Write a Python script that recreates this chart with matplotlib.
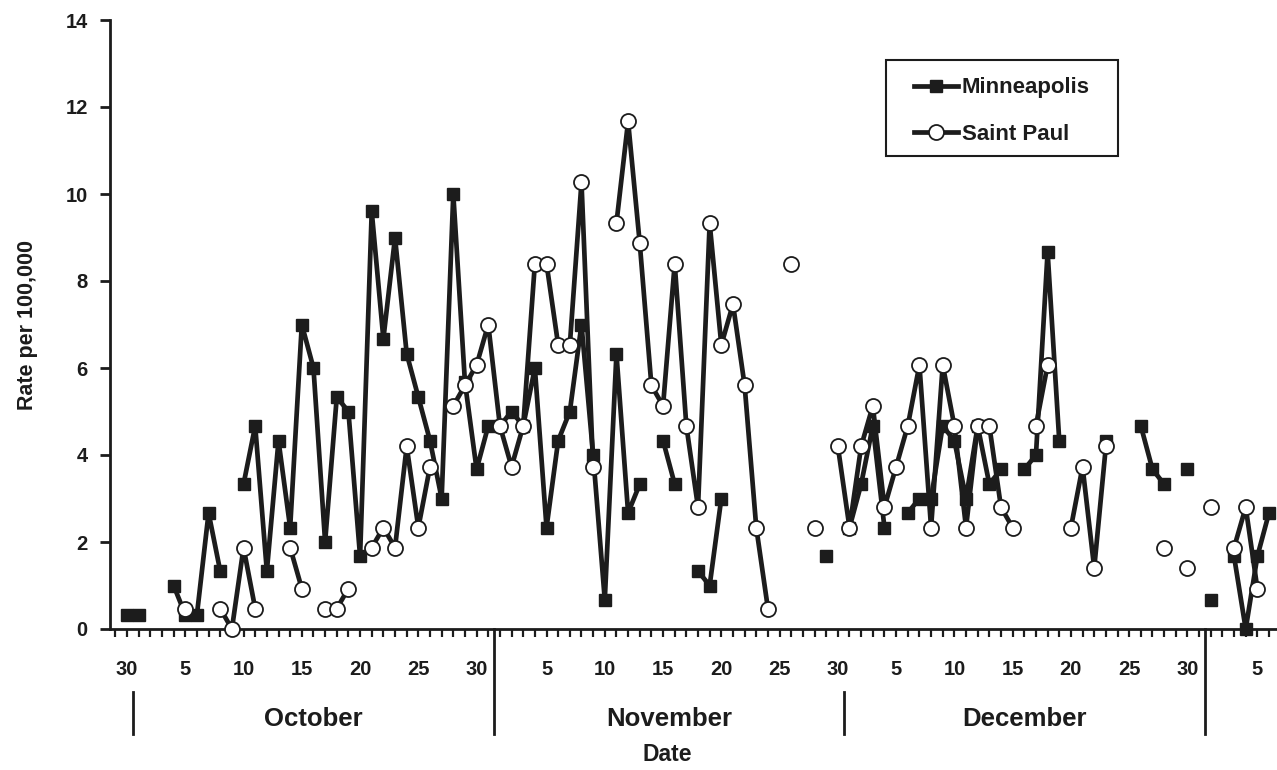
import numpy as np
import matplotlib
matplotlib.use("Agg")
import matplotlib.pyplot as plt
import matplotlib.transforms as mtransforms
from matplotlib.lines import Line2D
from matplotlib.patches import Rectangle

plt.rcParams['font.family'] = ['Liberation Sans', 'DejaVu Sans']
plt.rcParams['font.weight'] = 'bold'

# Day index: 0 = Sep 30, 1 = Oct 1, ... 32 = Nov 1, 62 = Dec 1, 93 = Jan 1, 98 = Jan 6
days = list(range(0, 99))
N = None
minneapolis = [
    0.33, 0.33, N, N, 1.0, 0.33, 0.33, 2.67, 1.33, N,            # Sep30 - Oct9
    3.33, 4.67, 1.33, 4.33, 2.33, 7.0, 6.0, 2.0, 5.33, 5.0,       # Oct10 - Oct19
    1.67, 9.6, 6.67, 9.0, 6.33, 5.33, 4.33, 3.0, 10.0, 5.67,      # Oct20 - Oct29
    3.67, 4.67, 4.67, 5.0, 4.67, 6.0, 2.33, 4.33, 5.0, 7.0,       # Oct30 - Nov8
    4.0, 0.67, 6.33, 2.67, 3.33, N, 4.33, 3.33, N, 1.33,          # Nov9 - Nov18
    1.0, 3.0, N, N, N, N, N, N, N, N,                             # Nov19 - Nov28
    1.67, N, 2.33, 3.33, 4.67, 2.33, N, 2.67, 3.0, 3.0,           # Nov29 - Dec8
    4.67, 4.33, 3.0, 4.67, 3.33, 3.67, N, 3.67, 4.0, 8.67,        # Dec9 - Dec18
    4.33, N, N, N, 4.33, N, N, 4.67, 3.67, 3.33,                  # Dec19 - Dec28
    N, 3.67, N, 0.67, N, 1.67, 0.0, 1.67, 2.67,                   # Dec29 - Jan6
]
saint_paul = [
    N, N, N, N, N, 0.47, N, N, 0.47, 0.0,                         # Sep30 - Oct9
    1.87, 0.47, N, N, 1.87, 0.93, N, 0.47, 0.47, 0.93,            # Oct10 - Oct19
    N, 1.87, 2.33, 1.87, 4.2, 2.33, 3.73, N, 5.13, 5.6,           # Oct20 - Oct29
    6.07, 7.0, 4.67, 3.73, 4.67, 8.4, 8.4, 6.53, 6.53, 10.27,     # Oct30 - Nov8
    3.73, N, 9.33, 11.67, 8.87, 5.6, 5.13, 8.4, 4.67, 2.8,        # Nov9 - Nov18
    9.33, 6.53, 7.47, 5.6, 2.33, 0.47, N, 8.4, N, 2.33,           # Nov19 - Nov28
    N, 4.2, 2.33, 4.2, 5.13, 2.8, 3.73, 4.67, 6.07, 2.33,         # Nov29 - Dec8
    6.07, 4.67, 2.33, 4.67, 4.67, 2.8, 2.33, N, 4.67, 6.07,       # Dec9 - Dec18
    N, 2.33, 3.73, 1.4, 4.2, N, N, N, N, 1.87,                    # Dec19 - Dec28
    N, 1.4, N, 2.8, N, 1.87, 2.8, 0.93, N,                        # Dec29 - Jan6
]
tick_days = [0, 5, 10, 15, 20, 25, 30, 36, 41, 46, 51, 56, 61,
             66, 71, 76, 81, 86, 91, 97]
tick_labels = ['30', '5', '10', '15', '20', '25', '30', '5', '10', '15', '20',
               '25', '30', '5', '10', '15', '20', '25', '30', '5']
month_names = ['October', 'November', 'December']
month_centers = [16.0, 46.5, 77.0]
month_bounds = [0.5, 31.5, 61.5, 92.5]
month_bound_long = [False, True, False, True]


def to_arr(v):
    return np.array([np.nan if x is None else x for x in v], dtype=float)


mp = to_arr(minneapolis)
sp = to_arr(saint_paul)
x = np.array(days)

W, H = 1277, 770
fig = plt.figure(figsize=(W / 100, H / 100), dpi=100)
ax = fig.add_axes([110 / W, (H - 629) / H, 1166 / W, 609 / H])

ink = '#1c1c1c'
ax.plot(x, mp, color=ink, lw=3.4, marker='s', ms=9.0, mfc=ink, mec=ink,
        mew=1.0, clip_on=False, zorder=3, label='Minneapolis')
ax.plot(x, sp, color=ink, lw=3.4, marker='o', ms=10.8, mfc='white', mec=ink,
        mew=1.3, clip_on=False, zorder=4, label='Saint Paul')

ax.set_xlim(-1.46, 98.6)
ax.set_ylim(0, 14)

for s in ['top', 'right']:
    ax.spines[s].set_visible(False)
for s in ['left', 'bottom']:
    ax.spines[s].set_linewidth(2.0)
    ax.spines[s].set_color(ink)

ax.set_yticks(np.arange(0, 15, 2))
ax.tick_params(axis='y', direction='out', length=7, width=2.0, color=ink,
               labelsize=14.5, pad=9, labelcolor=ink)
ax.set_xticks(tick_days)
ax.set_xticklabels(tick_labels)
ax.set_xticks(np.arange(-1, 99, 1), minor=True)
ax.tick_params(axis='x', which='both', direction='out', length=6, width=1.6,
               color=ink, labelsize=14.5, pad=16, labelcolor=ink)
for lab in ax.get_xticklabels() + ax.get_yticklabels():
    lab.set_fontweight('bold')

trans = mtransforms.blended_transform_factory(ax.transData, ax.transAxes)
for name, c in zip(month_names, month_centers):
    ax.text(c, -0.148, name, transform=trans, ha='center', va='center',
            fontsize=18.5, fontweight='bold', color=ink)
for b, long_ in zip(month_bounds, month_bound_long):
    y0 = 0.0 if long_ else -0.104
    ax.add_line(Line2D([b, b], [y0, -0.172], transform=trans, color=ink,
                       lw=2.0, clip_on=False))

ax.text(0.478, -0.206, 'Date', transform=ax.transAxes, ha='center',
        va='center', fontsize=16.5, fontweight='bold', color=ink)
ax.set_ylabel('Rate per 100,000', fontsize=15.5, fontweight='bold', color=ink)
ax.yaxis.set_label_coords(-0.062, 0.5)

# legend box
bx0 = (886 - 110) / 1166
by1 = (629 - 60) / 609
bx1 = (1118 - 110) / 1166
by0 = (629 - 156) / 609
ax.add_patch(Rectangle((bx0, by0), bx1 - bx0, by1 - by0, transform=ax.transAxes,
                       fill=True, facecolor='white', edgecolor=ink, lw=1.5,
                       zorder=5, clip_on=False))
leg = ax.legend(loc='upper left', bbox_to_anchor=(bx0 + 0.005, by1 + 0.008),
                frameon=False, handlelength=2.0,
                handletextpad=0.15, labelspacing=1.15, numpoints=1,
                borderpad=0.5, prop={'weight': 'bold', 'size': 16})
leg.set_zorder(6)
for t in leg.get_texts():
    t.set_color(ink)

fig.savefig('out.png', dpi=100, facecolor='white')
